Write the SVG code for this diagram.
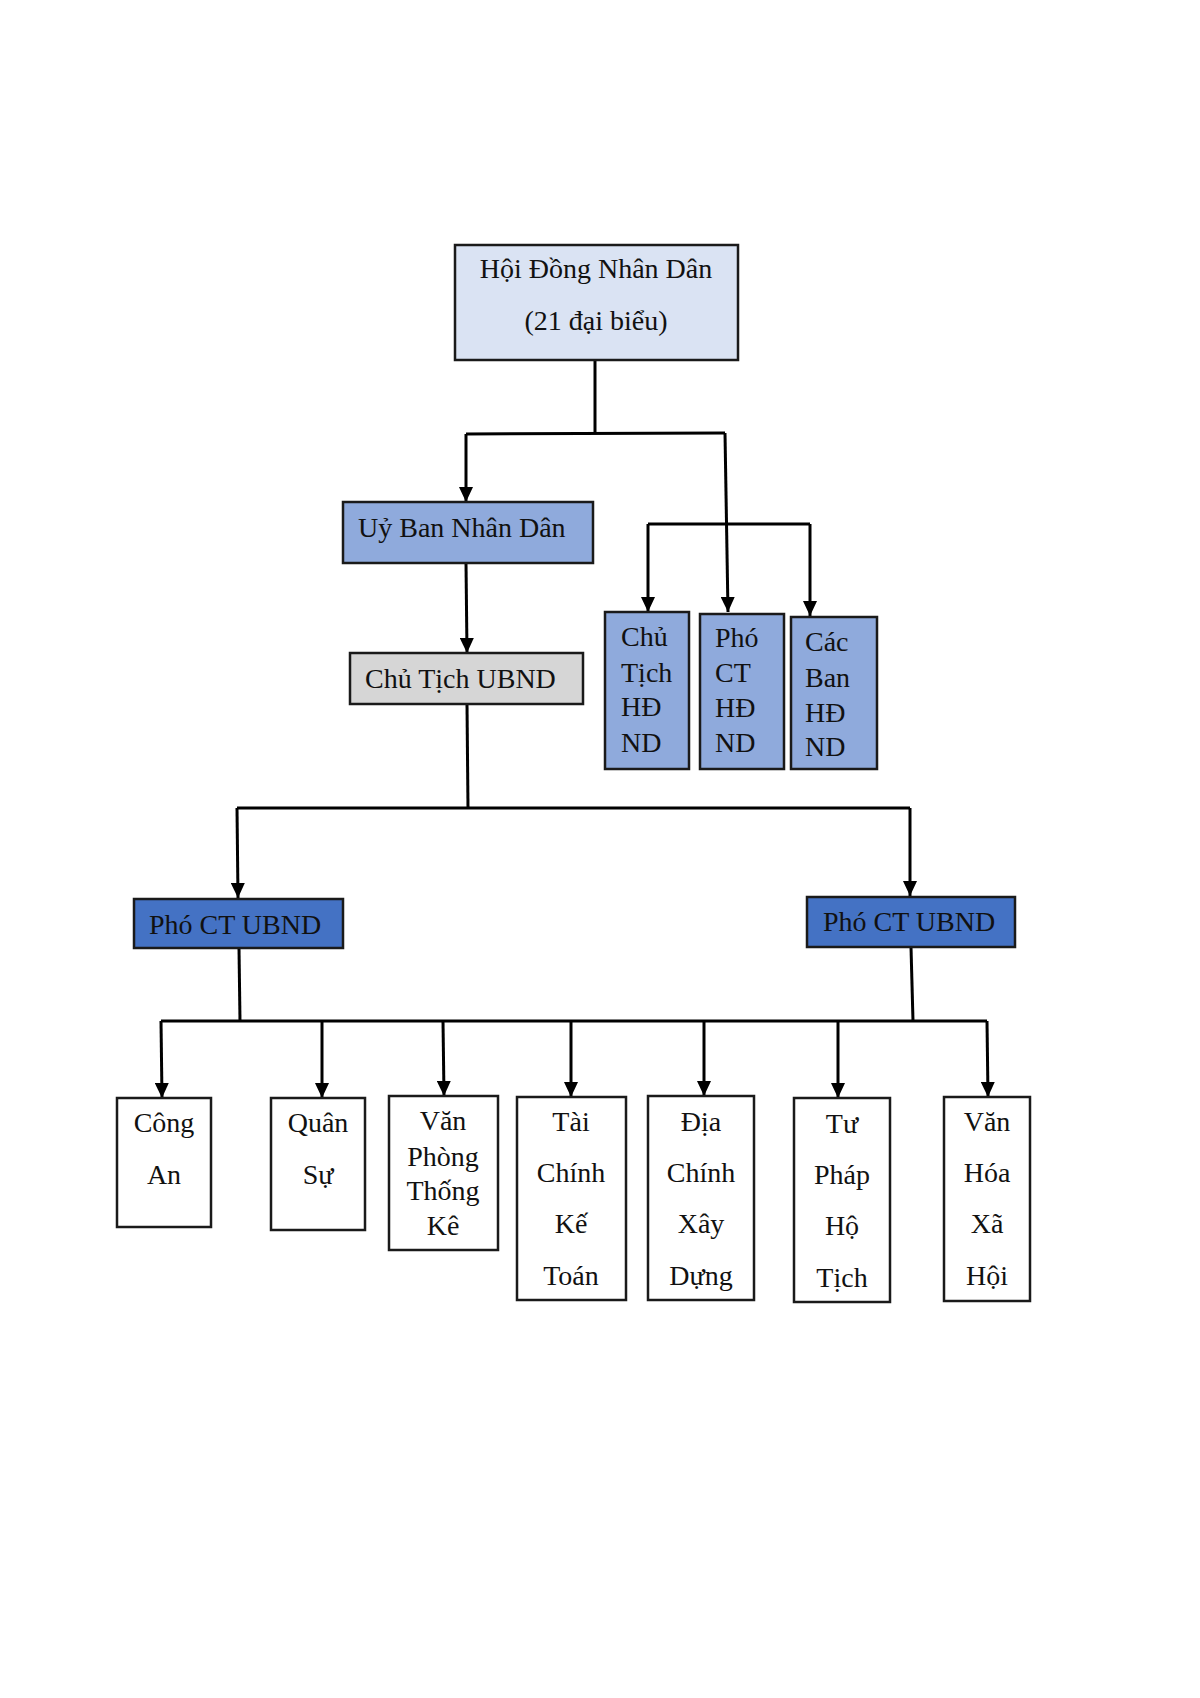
<svg xmlns="http://www.w3.org/2000/svg" width="1200" height="1698" viewBox="0 0 1200 1698">
<style>
.box{stroke:#1a1a1a;stroke-width:2.5}
.t{font-family:"Liberation Serif","Times New Roman",serif;font-size:28px;fill:#111}
.c{text-anchor:middle}
.ln{fill:none;stroke:#000;stroke-width:3}
</style>
<defs>
<marker id="a" markerUnits="userSpaceOnUse" markerWidth="15" markerHeight="14" viewBox="0 0 15 14" refX="15" refY="7" orient="auto">
<path d="M0,0 L15,7 L0,14 Z" fill="#000"/>
</marker>
</defs>
<rect width="1200" height="1698" fill="#fff"/>
<g id="connectors">
<path class="ln" d="M595,360 L595,434"/>
<path class="ln" d="M466,434 L725,433"/>
<path class="ln" d="M466,434 L466,502" marker-end="url(#a)"/>
<path class="ln" d="M725,433 L728,612" marker-end="url(#a)"/>
<path class="ln" d="M648,524 L810,524"/>
<path class="ln" d="M648,524 L648,612" marker-end="url(#a)"/>
<path class="ln" d="M810,524 L810,616" marker-end="url(#a)"/>
<path class="ln" d="M466,563 L467,653" marker-end="url(#a)"/>
<path class="ln" d="M467,704 L468,808"/>
<path class="ln" d="M237,808 L910,808"/>
<path class="ln" d="M237,808 L238,898" marker-end="url(#a)"/>
<path class="ln" d="M910,808 L910,896" marker-end="url(#a)"/>
<path class="ln" d="M239,948 L240,1021"/>
<path class="ln" d="M911,947 L913,1021"/>
<path class="ln" d="M161,1021 L987,1021"/>
<path class="ln" d="M161,1021 L162,1098" marker-end="url(#a)"/>
<path class="ln" d="M322,1021 L322,1098" marker-end="url(#a)"/>
<path class="ln" d="M443,1021 L444,1096" marker-end="url(#a)"/>
<path class="ln" d="M571,1021 L571,1097" marker-end="url(#a)"/>
<path class="ln" d="M704,1021 L704,1096" marker-end="url(#a)"/>
<path class="ln" d="M838,1021 L838,1098" marker-end="url(#a)"/>
<path class="ln" d="M987,1021 L988,1097" marker-end="url(#a)"/>
</g>
<g id="hdnd"><rect class="box" x="455" y="245" width="283" height="115" fill="#dae3f3"/>
<text class="t c" x="596" y="278">Hội Đồng Nhân Dân</text>
<text class="t c" x="596" y="330">(21 đại biểu)</text></g>
<g id="ubnd"><rect class="box" x="343" y="502" width="250" height="61" fill="#8faadc"/>
<text class="t" x="358" y="537">Uỷ Ban Nhân Dân</text></g>
<g id="chutich-ubnd"><rect class="box" x="350" y="653" width="233" height="51" fill="#d6d6d6"/>
<text class="t" x="365" y="688">Chủ Tịch UBND</text></g>
<g id="chutich-hdnd"><rect class="box" x="605" y="612" width="84" height="157" fill="#8faadc"/>
<text class="t" x="621" y="646">Chủ</text><text class="t" x="621" y="682">Tịch</text><text class="t" x="621" y="716">HĐ</text><text class="t" x="621" y="752">ND</text></g>
<g id="phoct-hdnd"><rect class="box" x="700" y="614" width="84" height="155" fill="#8faadc"/>
<text class="t" x="715" y="647">Phó</text><text class="t" x="715" y="682">CT</text><text class="t" x="715" y="717">HĐ</text><text class="t" x="715" y="752">ND</text></g>
<g id="cacban-hdnd"><rect class="box" x="791" y="617" width="86" height="152" fill="#8faadc"/>
<text class="t" x="805" y="651">Các</text><text class="t" x="805" y="687">Ban</text><text class="t" x="805" y="722">HĐ</text><text class="t" x="805" y="756">ND</text></g>
<g id="phoct-ubnd-1"><rect class="box" x="134" y="899" width="209" height="49" fill="#4472c4"/>
<text class="t" x="149" y="934">Phó CT UBND</text></g>
<g id="phoct-ubnd-2"><rect class="box" x="807" y="897" width="208" height="50" fill="#4472c4"/>
<text class="t" x="823" y="931">Phó CT UBND</text></g>
<g id="congan"><rect class="box" x="117" y="1098" width="94" height="129" fill="#fff"/>
<text class="t c" x="164" y="1132">Công</text><text class="t c" x="164" y="1184">An</text></g>
<g id="quansu"><rect class="box" x="271" y="1098" width="94" height="132" fill="#fff"/>
<text class="t c" x="318" y="1132">Quân</text><text class="t c" x="318" y="1184">Sự</text></g>
<g id="vanphong"><rect class="box" x="389" y="1096" width="109" height="154" fill="#fff"/>
<text class="t c" x="443" y="1130">Văn</text><text class="t c" x="443" y="1166">Phòng</text><text class="t c" x="443" y="1200">Thống</text><text class="t c" x="443" y="1235">Kê</text></g>
<g id="taichinh"><rect class="box" x="517" y="1097" width="109" height="203" fill="#fff"/>
<text class="t c" x="571" y="1131">Tài</text><text class="t c" x="571" y="1182">Chính</text><text class="t c" x="571" y="1233">Kế</text><text class="t c" x="571" y="1285">Toán</text></g>
<g id="diachinh"><rect class="box" x="648" y="1096" width="106" height="204" fill="#fff"/>
<text class="t c" x="701" y="1131">Địa</text><text class="t c" x="701" y="1182">Chính</text><text class="t c" x="701" y="1233">Xây</text><text class="t c" x="701" y="1285">Dựng</text></g>
<g id="tuphap"><rect class="box" x="794" y="1098" width="96" height="204" fill="#fff"/>
<text class="t c" x="842" y="1133">Tư</text><text class="t c" x="842" y="1184">Pháp</text><text class="t c" x="842" y="1235">Hộ</text><text class="t c" x="842" y="1287">Tịch</text></g>
<g id="vanhoa"><rect class="box" x="944" y="1097" width="86" height="204" fill="#fff"/>
<text class="t c" x="987" y="1131">Văn</text><text class="t c" x="987" y="1182">Hóa</text><text class="t c" x="987" y="1233">Xã</text><text class="t c" x="987" y="1285">Hội</text></g>
</svg>
